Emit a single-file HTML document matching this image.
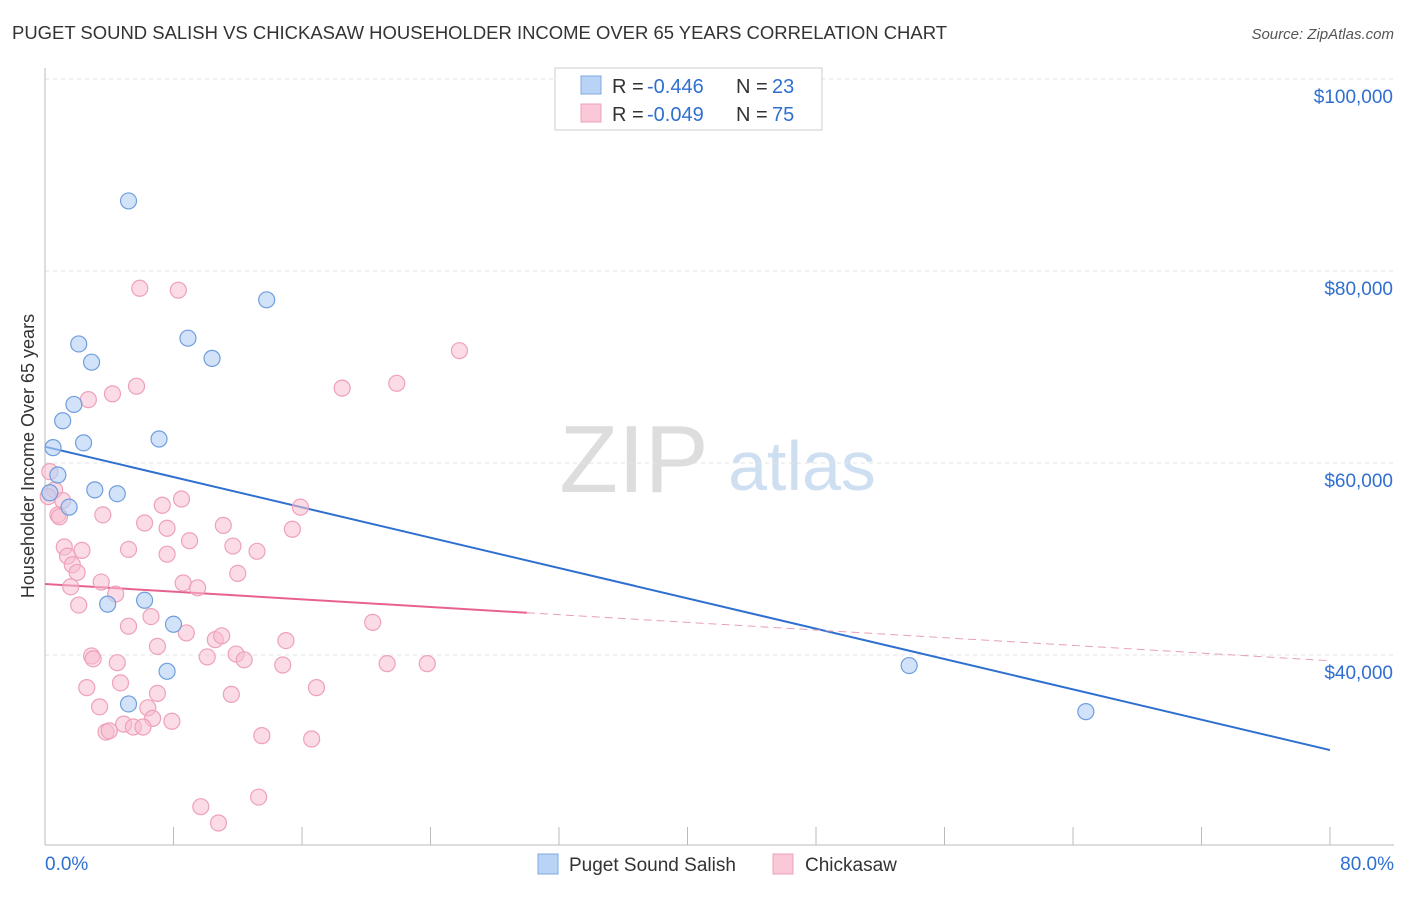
<!DOCTYPE html>
<html><head><meta charset="utf-8"><style>
body{margin:0;background:#fff;font-family:"Liberation Sans",sans-serif}
svg text{font-family:"Liberation Sans",sans-serif}
</style></head><body>
<svg id="c" width="1406" height="892">
<text x="12" y="39" font-size="18" fill="#333" textLength="935" lengthAdjust="spacingAndGlyphs">PUGET SOUND SALISH VS CHICKASAW HOUSEHOLDER INCOME OVER 65 YEARS CORRELATION CHART</text>
<text x="1394" y="39" font-size="15" fill="#555" text-anchor="end" font-style="italic">Source: ZipAtlas.com</text>
<text x="634" y="492" font-size="96" fill="#ddd" text-anchor="middle" font-family="Liberation Serif">ZIP</text>
<text x="802" y="490" font-size="70" fill="#cfdff2" text-anchor="middle">atlas</text>
<text transform="translate(34,456) rotate(-90)" font-size="18" fill="#333" text-anchor="middle">Householder Income Over 65 years</text>
<g id="grid"></g><g id="axes"></g><g id="lines"></g><g id="pts"></g>
<g>
<rect x="555" y="68" width="267" height="62" fill="#fff" stroke="#ccc"/>
<rect x="581" y="76" width="20" height="18" fill="#b8d3f5" stroke="#7fa8e0"/>
<rect x="581" y="104" width="20" height="18" fill="#fbc8d8" stroke="#eea1bb"/>
<text x="612" y="93" font-size="20" fill="#333">R =</text>
<text x="647" y="93" font-size="20" fill="#2f6fd0">-0.446</text>
<text x="736" y="93" font-size="20" fill="#333">N =</text>
<text x="772" y="93" font-size="20" fill="#2f6fd0">23</text>
<text x="612" y="121" font-size="20" fill="#333">R =</text>
<text x="647" y="121" font-size="20" fill="#2f6fd0">-0.049</text>
<text x="736" y="121" font-size="20" fill="#333">N =</text>
<text x="772" y="121" font-size="20" fill="#2f6fd0">75</text>
</g>
<g>
<rect x="538" y="854" width="20" height="20" fill="#b8d3f5" stroke="#7fa8e0"/>
<text x="569" y="871" font-size="19" fill="#333">Puget Sound Salish</text>
<rect x="773" y="854" width="20" height="20" fill="#fbc8d8" stroke="#eea1bb"/>
<text x="805" y="871" font-size="19" fill="#333">Chickasaw</text>
</g>
</svg>
<script>
const blueX=[5.2,13.8,2.1,8.9,2.9,10.4,1.8,1.1,2.4,7.1,0.5,0.8,3.1,4.5,1.5,0.3,6.2,3.9,8.0,7.6,5.2,53.8,64.8];
const blueY=[87.3,77.0,72.4,73.0,70.5,70.9,66.1,64.4,62.1,62.5,61.6,58.75,57.2,56.8,55.4,56.9,45.7,45.3,43.2,38.3,34.9,38.9,34.1];
const pinkX=[5.9,8.3,25.8,21.9,18.5,5.7,2.7,4.2,0.3,0.6,1.1,0.8,0.9,8.5,15.9,7.3,3.6,6.2,7.6,11.1,15.4,1.2,2.3,5.2,11.7,13.2,9.0,7.6,1.4,1.7,2.0,12.0,3.5,8.6,9.5,1.6,2.1,4.4,6.6,5.2,8.8,7.0,10.6,11.0,15.0,20.4,2.9,3.0,4.5,10.1,11.9,12.4,14.8,21.3,23.8,4.7,2.6,7.0,11.6,16.9,3.4,6.4,6.7,4.9,5.5,7.9,3.8,6.1,4.0,13.5,16.6,9.7,13.3,10.8,0.2];
const pinkY=[78.2,78.0,71.7,68.3,67.8,68.0,66.6,67.2,59.1,57.2,56.1,54.6,54.4,56.25,55.4,55.6,54.6,53.75,53.2,53.5,53.1,51.25,50.9,51.0,51.35,50.8,51.9,50.5,50.3,49.4,48.6,48.5,47.6,47.5,47.0,47.1,45.2,46.35,44.0,43.0,42.3,40.9,41.6,42.0,41.5,43.4,39.9,39.6,39.2,39.8,40.1,39.5,38.96,39.1,39.1,37.1,36.6,36.0,35.9,36.6,34.6,34.5,33.4,32.8,32.5,33.1,31.98,32.5,32.1,31.6,31.25,24.2,25.2,22.5,56.5];
const xTicks=[0,8,16,24,32,40,48,56,64,72,80];
const yTicks=[40,60,80,100];
const yLabels=["$40,000","$60,000","$80,000","$100,000"];
const blueTrend=[[0,61.7],[80,30.1]];
const pinkTrend=[[0,47.4],[30,44.4],[80,39.4]];
const sx=v=>45+v*(1285/80);
const sy=v=>79+(100-v)*9.6;
const NS="http://www.w3.org/2000/svg";
function mk(p,t,a){const e=document.createElementNS(NS,t);for(const k in a)e.setAttribute(k,a[k]);document.getElementById(p).appendChild(e);return e;}
yTicks.forEach((v,i)=>{
 const l=mk('grid','line',{x1:45,x2:1394,y1:sy(v),y2:sy(v),stroke:'#e3e3e3','stroke-dasharray':'4,4'});
 
 
 const t=mk('grid','text',{x:1393,y:sy(v)+24,'font-size':19,fill:'#2f6fd0','text-anchor':'end'});
 t.textContent=yLabels[i];
 
 
});
const xa=mk('axes','line',{x1:45,x2:1394,y1:845,y2:845,stroke:'#bbb'});


const ya=mk('axes','line',{x1:45,x2:45,y1:68,y2:845,stroke:'#bbb'});


xTicks.forEach(v=>{
 const t=mk('axes','line',{x1:sx(v),x2:sx(v),y1:827,y2:845,stroke:'#bbb'});
 
 
});
[[0,"0.0%","start",45],[80,"80.0%","end",1394]].forEach(d=>{
 const t=mk('axes','text',{x:d[3],y:870,'font-size':19,fill:'#2f6fd0','text-anchor':d[2]});
 t.textContent=d[1];
 
 
});
const bl=mk('lines','line',{x1:sx(blueTrend[0][0]),y1:sy(blueTrend[0][1]),x2:sx(blueTrend[1][0]),y2:sy(blueTrend[1][1]),stroke:'#2f6fd0','stroke-width':2});


const pl=mk('lines','line',{x1:sx(pinkTrend[0][0]),y1:sy(pinkTrend[0][1]),x2:sx(pinkTrend[1][0]),y2:sy(pinkTrend[1][1]),stroke:'#e8628f','stroke-width':2});


const pd=mk('lines','line',{x1:sx(pinkTrend[1][0]),y1:sy(pinkTrend[1][1]),x2:sx(pinkTrend[2][0]),y2:sy(pinkTrend[2][1]),stroke:'#e8a0b8','stroke-width':1,'stroke-dasharray':'8,5'});


pinkX.forEach((x,i)=>{
 const c=mk('pts','circle',{cx:sx(x),cy:sy(pinkY[i]),r:8,fill:'rgba(248,190,208,0.55)',stroke:'#eea1bb','stroke-width':1.2});
 
 
});
blueX.forEach((x,i)=>{
 const c=mk('pts','circle',{cx:sx(x),cy:sy(blueY[i]),r:8,fill:'rgba(180,208,245,0.6)',stroke:'#6f9ede','stroke-width':1.2});
 
 
});
</script>
</body></html>
